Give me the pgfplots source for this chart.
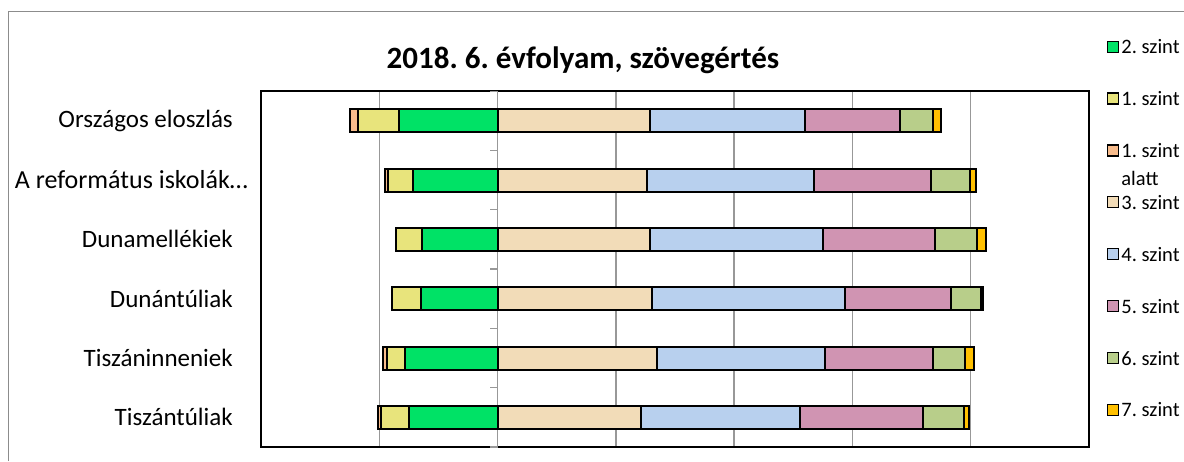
\documentclass[border=0pt]{standalone}
\usepackage{fontspec}
\setmainfont{Carlito}
\usepackage{pgfplots}
\usepackage{pgfplotstable}
\pgfplotsset{compat=1.18}
\frenchspacing
\definecolor{cA}{HTML}{00E266}
\definecolor{cB}{HTML}{E8E47C}
\definecolor{cC}{HTML}{F8BC8C}
\definecolor{cD}{HTML}{F2DCB8}
\definecolor{cE}{HTML}{B8D0EE}
\definecolor{cF}{HTML}{D094B2}
\definecolor{cG}{HTML}{B8CE8A}
\definecolor{cH}{HTML}{FFC000}
\definecolor{gridg}{HTML}{989898}
\definecolor{frameg}{HTML}{8C8C8C}
\pgfplotstableread{
y s3 s4 s5 s6 s7
0 25.7 26.2 16.1 5.7 1.2
1 25.2 28.3 19.7 6.6 1.1
2 25.8 29.2 19.0 7.1 1.5
3 26.1 32.6 17.9 5.1 0.3
4 26.9 28.4 18.3 5.5 1.5
5 24.2 26.9 20.8 6.9 0.9
}\tabR
\pgfplotstableread{
y s2 s1 s0
0 -16.7 -6.9 -1.4
1 -14.3 -4.3 -0.4
2 -12.8 -4.4 0
3 -13.0 -4.9 0
4 -15.7 -3.0 -0.7
5 -15.0 -4.7 -0.6
}\tabL
\pgfplotsset{
  my legend/.style={legend image code/.code={\draw[##1,draw=black,line width=1.2pt] (0pt,-5.5pt) rectangle (11pt,5.5pt);}},
  common/.style={
    at={(261pt,14pt)}, anchor=south west,
    scale only axis, width=828pt, height=356pt,
    xbar stacked, bar width=23pt,
    xmin=-40, xmax=100, ymin=-0.5, ymax=5.5, y dir=reverse,
  },
  segs/.style={draw=black, line width=2pt},
}
\begin{document}
\begin{tikzpicture}
\useasboundingbox (0,0) rectangle (1184pt,461pt);
\draw[frameg, line width=1pt] (8.3pt,0pt) -- (8.3pt,449pt) -- (1184pt,449pt);
\node[font=\bfseries\fontsize{31}{35}\selectfont] at (583pt,401pt) {2018. 6. évfolyam, szövegértés};
\begin{axis}[common,
  every axis plot/.append style={my legend},
  xtick={-20,0,20,40,60,80}, xticklabels={},
  xmajorgrids, grid style={gridg, line width=1.3pt},
  major tick length=0pt,
  ytick={0,...,5},
  yticklabels={Országos eloszlás, {\fontsize{26}{30}\selectfont A református iskolák…\kern-15pt}, Dunamellékiek, Dunántúliak, Tiszáninneniek, Tiszántúliak},
  yticklabel style={font=\fontsize{25}{29}\selectfont, inner sep=0pt, xshift=-28pt},
  axis line style={black, line width=1.4pt},
  legend style={at={(1.0217,1.1545)}, anchor=north west, draw=none, fill=none,
    font=\fontsize{20.5}{22}\selectfont, row sep=31pt, inner sep=0pt},
  legend cell align=left,
]
\addlegendimage{my legend, fill=cA}
\addlegendentry{\strut 2. szint}
\addlegendimage{my legend, fill=cB}
\addlegendentry{\strut 1. szint}
\addlegendimage{my legend, fill=cC}
\addlegendentry{\strut\smash{\vtop{\baselineskip=28pt\hbox{1. szint}\hbox{alatt}}}}
\addplot[segs, fill=cD] table[x=s3,y=y] \tabR; \addlegendentry{\strut 3. szint}
\addplot[segs, fill=cE] table[x=s4,y=y] \tabR; \addlegendentry{\strut 4. szint}
\addplot[segs, fill=cF] table[x=s5,y=y] \tabR; \addlegendentry{\strut 5. szint}
\addplot[segs, fill=cG] table[x=s6,y=y] \tabR; \addlegendentry{\strut 6. szint}
\addplot[segs, fill=cH] table[x=s7,y=y] \tabR; \addlegendentry{\strut 7. szint}
\pgfplotsinvokeforeach{-0.5,0.5,1.5,2.5,3.5,4.5,5.5}{
  \draw[gridg, line width=1.3pt] (axis cs:0,#1) -- ++(-8pt,0pt);
}
\end{axis}
\begin{axis}[common, hide axis]
\addplot[segs, fill=cA] table[x=s2,y=y] \tabL;
\addplot[segs, fill=cB] table[x=s1,y=y] \tabL;
\addplot[segs, fill=cC] table[x=s0,y=y] \tabL;
\end{axis}
\end{tikzpicture}
\end{document}
